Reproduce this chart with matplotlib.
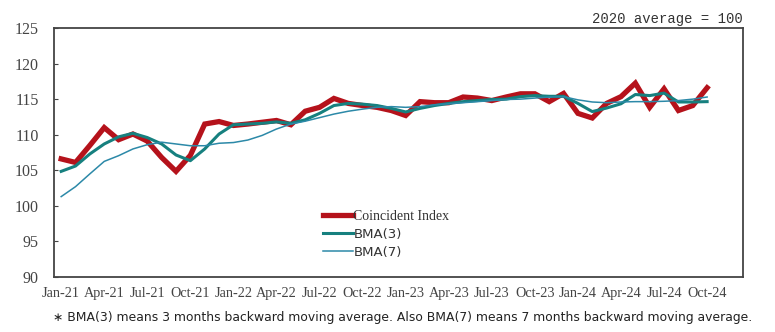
import matplotlib.pyplot as plt
import numpy as np

# monthly categories Jan-21 .. Dec-24 (data runs to Oct-24)
months = ["Jan", "Feb", "Mar", "Apr", "May", "Jun", "Jul", "Aug", "Sep", "Oct", "Nov", "Dec"]
years = ["21", "22", "23", "24"]
categories = [m + "-" + y for y in years for m in months]

coincident = [106.6, 106.1, 108.5, 111.0, 109.3, 110.1, 109.1, 106.8, 104.85, 107.1, 111.5, 111.85,
              111.3, 111.5, 111.75, 112.0, 111.4, 113.3, 113.85, 115.1, 114.4, 114.1, 113.85, 113.4,
              112.7, 114.65, 114.5, 114.5, 115.3, 115.15, 114.8, 115.3, 115.75, 115.75, 114.65, 115.8,
              113.0, 112.35, 114.4, 115.35, 117.25, 113.85, 116.45, 113.4, 114.1, 116.6]
bma3 = [104.85, 105.6, 107.3, 108.7, 109.7, 110.2, 109.6, 108.7, 107.15, 106.35, 108.0, 110.1,
        111.4, 111.5, 111.6, 111.8, 111.6, 112.1, 113.0, 114.1, 114.4, 114.3, 114.1, 113.7,
        113.2, 113.7, 114.1, 114.4, 114.65, 114.8, 114.95, 115.0, 115.35, 115.5, 115.4, 115.4,
        114.4, 113.25, 113.75, 114.35, 115.65, 115.5, 115.85, 114.6, 114.6, 114.65]
bma7 = [101.3, 102.7, 104.5, 106.25, 107.05, 108.0, 108.6, 108.95, 108.7, 108.45, 108.45, 108.8,
        108.9, 109.25, 109.9, 110.8, 111.5, 111.9, 112.4, 112.9, 113.3, 113.6, 113.85, 113.95,
        113.85, 113.95, 114.2, 114.35, 114.5, 114.65, 114.8, 114.95, 115.0, 115.15, 115.3, 115.35,
        114.9, 114.6, 114.5, 114.6, 114.65, 114.65, 114.7, 114.8, 115.0, 115.3]

yticks = [90, 95, 100, 105, 110, 115, 120, 125]

plt.rcParams['font.family'] = ['Liberation Serif', 'DejaVu Serif']

fig = plt.figure(figsize=(7.75, 3.32), dpi=100)
ax = fig.add_axes([54 / 775, 1 - 277 / 332, 689 / 775, 249 / 332])

x = np.arange(len(coincident))
ax.plot(x, coincident, color='#B5121B', lw=3.8, solid_joinstyle='miter', label='Coincident Index', zorder=3)
ax.plot(x, bma3, color='#16807F', lw=2.2, label='BMA(3)', zorder=4)
ax.plot(x, bma7, color='#2C89A8', lw=1.1, label='BMA(7)', zorder=5)

ax.set_xlim(-0.5, len(categories) - 0.5)
ax.set_ylim(90, 125)
ax.set_yticks(yticks)
ax.set_xticks(range(0, 46, 3))
ax.set_xticklabels([categories[i] for i in range(0, 46, 3)], fontsize=10.3, color='#444444')
ax.tick_params(axis='x', length=0, pad=7)
ax.tick_params(axis='y', direction='in', length=3, pad=11, labelsize=11.5, colors='#444444')
for s in ax.spines.values():
    s.set_color('#444444')
    s.set_linewidth(1.3)

leg = ax.legend(loc='upper left', bbox_to_anchor=(0.373, 0.321), frameon=False,
                handlelength=2.1, handletextpad=0.05, labelspacing=0.37, fontsize=10)
for t in leg.get_texts()[1:]:
    t.set_family('DejaVu Sans')
    t.set_fontsize(9.5)
    t.set_color('#333333')
leg.get_texts()[0].set_color('#333333')

fig.text(743 / 775, 1 - 19 / 332, "2020 average = 100", ha='right', va='center',
         family='Liberation Mono', fontsize=10, color='#333333')
fig.text(403 / 775, 1 - 318 / 332,
         "\u2217 BMA(3) means 3 months backward moving average. Also BMA(7) means 7 months backward moving average.",
         ha='center', va='center', family='DejaVu Sans', fontsize=8.9, color='#222222')

fig.savefig('out.png', dpi=100)
